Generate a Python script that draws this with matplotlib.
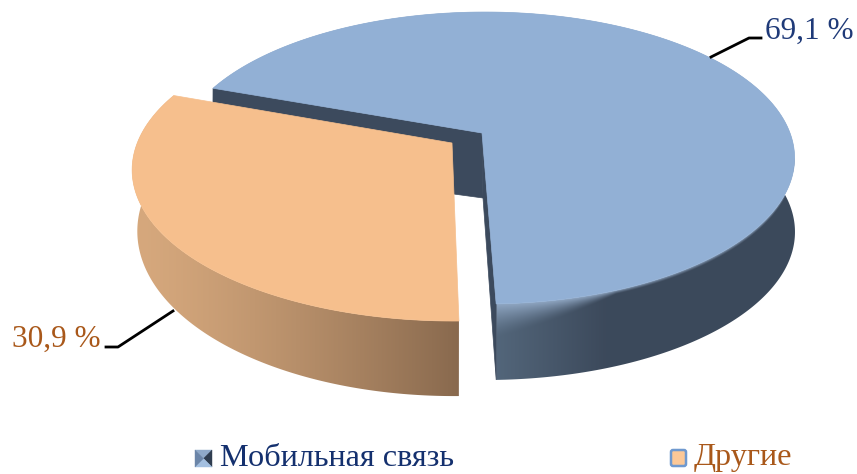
"""Exploded 3D pie: mobile share vs the rest, drawn on a pixel-sized axes."""

import numpy as np

import matplotlib
matplotlib.use("Agg")
import matplotlib.pyplot as plt
from matplotlib.patches import Polygon, FancyBboxPatch

categories = ["Мобильная связь", "Другие"]
shares = [69.1, 30.9]
share_labels = ["69,1 %", "30,9 %"]

W, H = 857, 474
START_DEG = 160.5   # where the big slice starts, going clockwise
START_DEG2 = 159.5  # same edge of the pulled-out slice
K = 0.1713          # perspective of the tilted disc

plt.rcParams["font.family"] = ["Liberation Serif", "DejaVu Serif"]


def rim(theta, ax0, ay0, rx, ry):
    """Project circle points (theta in degrees) onto the picture."""
    t = np.radians(theta)
    u, v = np.cos(t), np.sin(t)
    s = 1 + K * v
    return ax0 + rx * u / s, ay0 - ry * v / s


def slice_path(theta, top, bottom):
    xt, yt = rim(theta, *top)
    xb, yb = rim(theta, *bottom)
    return np.c_[np.r_[xt, xb[::-1]], np.r_[yt, yb[::-1]]]


def gradient(ax, stops_fn, clip):
    xx, yy = np.meshgrid(np.arange(W), np.arange(H))
    im = ax.imshow(stops_fn(xx + 0.5, yy + 0.5), extent=(0, W, H, 0),
                   interpolation="bilinear", aspect="auto")
    im.set_clip_path(clip)


def mix(a, b, w):
    a, b = np.array(a), np.array(b)
    return a[None, None, :] + (b - a)[None, None, :] * w[:, :, None]


fig = plt.figure(figsize=(W / 100, H / 100), dpi=100)
ax = fig.add_axes([0, 0, 1, 1])
ax.set_xlim(0, W)
ax.set_ylim(H, 0)
ax.axis("off")

sweep = np.array(shares) / sum(shares) * 360
end_deg = START_DEG - sweep[0]

# big slice
top = (485, 133, 305, 141.7)
bottom = (485, 206.6, 305.4, 143.7)
apex_top = (482, 133)
apex_bottom = (483, 198)
theta = np.linspace(START_DEG, end_deg, 400)
rim_x, rim_y = rim(theta, *top)
front = theta < -5
order = np.argsort(rim_x[front])
rim_x_front, rim_y_front = rim_x[front][order], rim_y[front][order]


def blue_shade(x, y):
    dark = (0.235, 0.287, 0.357)
    light = (0.325, 0.400, 0.480)
    pale = (0.560, 0.650, 0.760)
    base = mix(dark, light, np.clip(1 - (x - 496) / 110, 0, 1))
    # soft glow under the rim, wide near the cut and thin further right
    d = y - np.interp(x, rim_x_front, rim_y_front)
    width = 4 + 30 * np.clip(1 - (x - 496) / 120, 0, 1)
    band = np.clip(1 - d / width, 0, 1) ** 1.5
    return base + (np.array(pale)[None, None, :] - base) * band[:, :, None]


def orange_shade(x, y):
    return mix((0.840, 0.660, 0.490), (0.535, 0.412, 0.305),
               np.clip((x - 135) / 325, 0, 1) ** 1.3)


side = Polygon(slice_path(theta, top, bottom), closed=True, transform=ax.transData,
               fc="none", ec="none")
ax.add_patch(side)
gradient(ax, blue_shade, side)
for edge in (START_DEG, end_deg):
    pts = slice_path(np.array([edge]), top, bottom)
    wall = [apex_top, pts[0], pts[1], apex_bottom]
    ax.add_patch(Polygon(wall, closed=True, fc="#3c4a5d", ec="#3c4a5d", lw=0.5))
ax.add_patch(Polygon(np.c_[np.r_[apex_top[0], rim_x], np.r_[apex_top[1], rim_y]], closed=True,
                     fc="#92b0d5", ec="#92b0d5", lw=0.5))

# small slice, pulled out
top2 = (454, 144, 317.1, 146.7)
bottom2 = (454, 203, 312, 160)
apex2 = (452, 143)
theta2 = np.linspace(START_DEG2, START_DEG2 + sweep[1], 300)
side2 = Polygon(slice_path(theta2, top2, bottom2), closed=True, transform=ax.transData,
                fc="none", ec="none")
ax.add_patch(side2)
gradient(ax, orange_shade, side2)
xt, yt = rim(theta2, *top2)
ax.add_patch(Polygon(np.c_[np.r_[apex2[0], xt], np.r_[apex2[1], yt]], closed=True,
                     fc="#f6bf8d", ec="#f6bf8d", lw=0.5))

ax.set_xlim(0, W)
ax.set_ylim(H, 0)

# labels with leader lines
ax.plot([711, 749, 761], [57, 38, 38], color="black", lw=2)
ax.plot([173, 118, 106], [311, 347, 347], color="black", lw=2)
ax.text(765, 39, share_labels[0], color="#1f3a78", fontsize=22.5, va="baseline", ha="left")
ax.text(12, 347, share_labels[1], color="#a9581a", fontsize=22.5, va="baseline", ha="left")

# legend swatches
x0, y0, s = 195, 450, 17
cx, cy = x0 + s / 2, y0 + s / 2
corners = [(x0, y0), (x0 + s, y0), (x0 + s, y0 + s), (x0, y0 + s)]
for i, c in enumerate(["#8fa9c9", "#2f3d50", "#a3bfe0", "#6b85a8"]):
    ax.add_patch(Polygon([corners[i], corners[(i + 1) % 4], (cx, cy)], closed=True,
                         fc=c, ec=c, lw=0.3))
ax.add_patch(FancyBboxPatch((671, 450), 15, 16, boxstyle="round,pad=0,rounding_size=2",
                            fc="#fcc897", ec="#6f99cf", lw=1.8))
# baseline kept high enough that the descenders stay inside the picture
ax.text(220, 465.5, categories[0], color="#14306e", fontsize=23.2, va="baseline", ha="left")
ax.text(694, 465.5, categories[1], color="#a9581a", fontsize=23.2, va="baseline", ha="left")

plt.savefig("out.png", dpi=100)
plt.close()
